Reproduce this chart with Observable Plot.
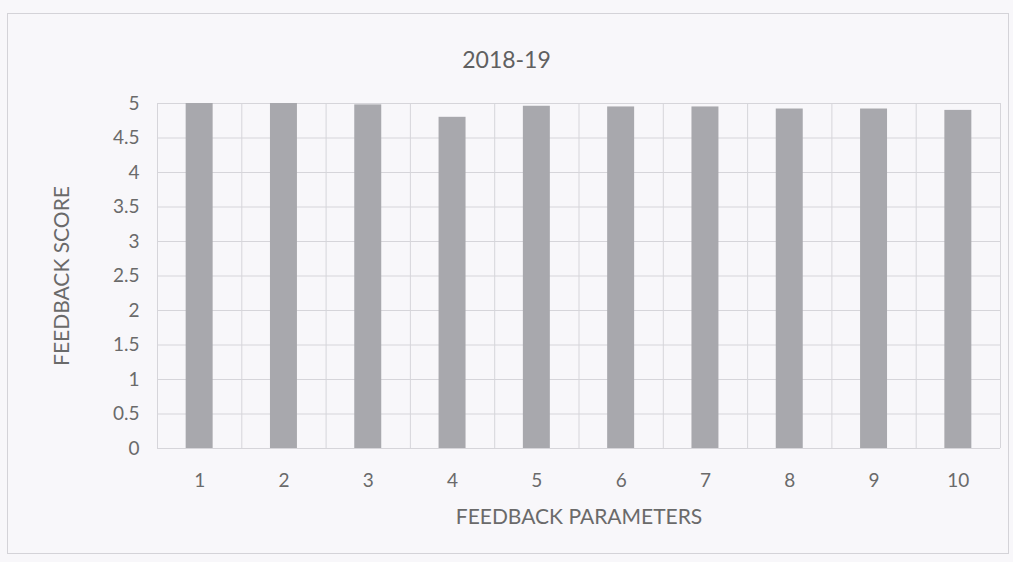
<!DOCTYPE html>
<html>
<head>
<meta charset="utf-8">
<script src="https://cdn.jsdelivr.net/npm/d3@7"></script>
<script src="https://cdn.jsdelivr.net/npm/@observablehq/plot@0.6"></script>
<style>
  html, body { margin: 0; padding: 0; background: #f8f7fa; }
  #wrap { position: relative; width: 1013px; height: 562px; overflow: hidden; }
  #frame { position: absolute; left: 7px; top: 13px; width: 1002px; height: 541px; border: 1px solid #d4d3d8; box-sizing: border-box; }
  #title { position: absolute; left: 0; width: 1013px; top: 45px; text-align: center; font-family: Lato, "Open Sans", sans-serif; font-size: 23px; color: #606060; }
  #chart { position: absolute; left: 0; top: 0; }
  #chart svg text { fill: #6a6a6a; }
</style>
</head>
<body>
<div id="wrap">
  <div id="frame"></div>
  <div id="title">2018-19</div>
  <div id="chart"></div>
</div>
<script>
const categories = [1, 2, 3, 4, 5, 6, 7, 8, 9, 10];
const scores = [5.0, 5.0, 4.98, 4.80, 4.96, 4.95, 4.95, 4.92, 4.92, 4.90];
const yTicks = [0, 0.5, 1, 1.5, 2, 2.5, 3, 3.5, 4, 4.5, 5];
const xTitle = "FEEDBACK PARAMETERS";
const yTitle = "FEEDBACK SCORE";

const data = categories.map((c, i) => ({cat: c, score: scores[i]}));
const boundaries = [categories[0] - 0.5, ...categories.map(c => c + 0.5)];
const half = 0.16;

const chart = Plot.plot({
  width: 1013,
  height: 562,
  marginLeft: 157,
  marginRight: 13,
  marginTop: 103,
  marginBottom: 114,
  style: {background: "transparent", fontFamily: "Lato, 'Open Sans', sans-serif", fontSize: "19px", color: "#6a6a6a"},
  x: {domain: [categories[0] - 0.5, categories[categories.length - 1] + 0.5]},
  y: {domain: [0, 5]},
  marks: [
    Plot.ruleY(yTicks, {stroke: "#d6d5da", strokeWidth: 1}),
    Plot.ruleX(boundaries, {stroke: "#d6d5da", strokeWidth: 1}),
    Plot.rectY(data, {x1: d => d.cat - half, x2: d => d.cat + half, y1: 0, y2: "score", fill: "#a8a8ad"}),
    Plot.axisY({ticks: yTicks, tickSize: 0, tickPadding: 18, tickFormat: d => String(d), fontSize: 19,
      label: null}),
    Plot.axisX({ticks: categories, tickSize: 0, tickPadding: 25, tickFormat: d => String(d), fontSize: 19,
      label: null}),
    Plot.text([yTitle], {frameAnchor: "left", dx: -95, rotate: -90, fontSize: 21, textAnchor: "middle"}),
    Plot.text([xTitle], {frameAnchor: "bottom", dy: 75, fontSize: 21, textAnchor: "middle"})
  ]
});
document.getElementById("chart").appendChild(chart);
</script>
</body>
</html>
